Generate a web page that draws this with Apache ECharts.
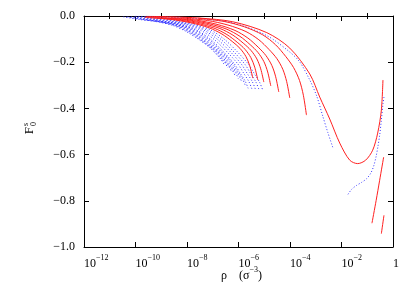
<!DOCTYPE html>
<html><head><meta charset="utf-8">
<script src="https://cdn.jsdelivr.net/npm/echarts@6/dist/echarts.min.js"></script>
<style>html,body{margin:0;padding:0;background:#fff}#c{width:415px;height:291px}</style>
</head><body><div id="c"></div>
<script>
// ---- tick labels ----
const xMajorExps = [-12, -10, -8, -6, -4, -2, 0];
const xMinorExps = [-11, -9, -7, -5, -3, -1];
const yTicks = [0, -0.2, -0.4, -0.6, -0.8, -1.0];

// ---- red solid curves: log10(rho) and F0s ----
const r0LogRho = [-9.644, -8.644, -7.844, -7.144, -6.644, -6.244, -5.944, -5.714, -5.564, -5.444];
const r0F      = [-0.0059, -0.0148, -0.0296, -0.0511, -0.078, -0.1103, -0.1399, -0.1749, -0.2152, -0.269];
const r1LogRho = [-9.45, -8.45, -7.65, -6.95, -6.45, -6.05, -5.75, -5.52, -5.37, -5.25];
const r1F      = [-0.0061, -0.0152, -0.0305, -0.0526, -0.0803, -0.1136, -0.144, -0.1801, -0.2216, -0.277];
const r2LogRho = [-9.217, -8.217, -7.417, -6.717, -6.217, -5.817, -5.517, -5.287, -5.137, -5.017];
const r2F      = [-0.0063, -0.0157, -0.0315, -0.0543, -0.0829, -0.1173, -0.1487, -0.1859, -0.2288, -0.286];
const r3LogRho = [-8.946, -7.946, -7.146, -6.446, -5.946, -5.546, -5.246, -5.016, -4.866, -4.746];
const r3F      = [-0.0067, -0.0167, -0.0333, -0.0576, -0.0879, -0.1242, -0.1576, -0.197, -0.2424, -0.303];
const r4LogRho = [-8.636, -7.636, -6.836, -6.136, -5.636, -5.236, -4.936, -4.706, -4.556, -4.436];
const r4F      = [-0.0072, -0.0181, -0.0362, -0.0625, -0.0954, -0.1349, -0.1711, -0.2139, -0.2632, -0.329];
const r5LogRho = [-8.209, -7.209, -6.409, -5.709, -5.209, -4.809, -4.509, -4.279, -4.129, -4.009];
const r5F      = [-0.0078, -0.0195, -0.0391, -0.0675, -0.103, -0.1456, -0.1846, -0.2308, -0.284, -0.355];
const r6LogRho = [-7.561, -6.561, -5.761, -5.061, -4.561, -4.161, -3.861, -3.631, -3.481, -3.361];
const r6F      = [-0.0094, -0.0236, -0.0472, -0.0815, -0.1244, -0.1759, -0.2231, -0.2789, -0.3432, -0.429];
const r7LogRho = [-9.6, -8.664, -7.5, -6.22, -4.901, -4.009, -3.233, -2.845, -2.457, -2.069, -1.681, -1.371, -1.061, -0.789, -0.595, -0.452, -0.39];
const r7F      = [-0.0015, -0.0035, -0.009, -0.025, -0.072, -0.139, -0.251, -0.351, -0.446, -0.55, -0.624, -0.639, -0.624, -0.581, -0.507, -0.407, -0.277];
const r8LogRho = [-0.817, -0.654, -0.518, -0.363];
const r8F      = [-0.897, -0.798, -0.711, -0.611];
const r9LogRho = [-0.452, -0.351];
const r9F      = [-0.942, -0.863];

// ---- blue dotted curves: log10(rho) and F0s ----
const b1LogRho  = [-10.469, -9.869, -9.209, -8.589, -8.039, -7.539, -7.109, -6.879, -6.685, -6.569];
const b1F       = [-0.0037, -0.0146, -0.0239, -0.0395, -0.0666, -0.1019, -0.1373, -0.1643, -0.1872, -0.208];
const b2LogRho  = [-10.314, -9.714, -9.054, -8.434, -7.884, -7.384, -6.954, -6.724, -6.53, -6.414];
const b2F       = [-0.0041, -0.0158, -0.0259, -0.0428, -0.072, -0.1103, -0.1485, -0.1778, -0.2025, -0.225];
const b3LogRho  = [-10.17, -9.57, -8.91, -8.29, -7.74, -7.24, -6.81, -6.58, -6.386, -6.27];
const b3F       = [-0.0043, -0.0169, -0.0277, -0.0458, -0.0771, -0.1181, -0.1591, -0.1904, -0.2169, -0.241];
const b4LogRho  = [-10.042, -9.442, -8.782, -8.162, -7.612, -7.112, -6.682, -6.452, -6.258, -6.142];
const b4F       = [-0.0046, -0.0179, -0.0294, -0.0486, -0.0819, -0.1254, -0.169, -0.2022, -0.2304, -0.256];
const b5LogRho  = [-9.907, -9.307, -8.647, -8.027, -7.477, -6.977, -6.547, -6.317, -6.123, -6.007];
const b5F       = [-0.0049, -0.019, -0.0312, -0.0515, -0.0867, -0.1328, -0.1789, -0.2141, -0.2439, -0.271];
const b6LogRho  = [-9.771, -9.171, -8.511, -7.891, -7.341, -6.841, -6.411, -6.181, -5.987, -5.871];
const b6F       = [-0.0051, -0.02, -0.0329, -0.0543, -0.0915, -0.1401, -0.1888, -0.2259, -0.2574, -0.286];
const b7LogRho  = [-9.635, -9.035, -8.375, -7.755, -7.205, -6.705, -6.275, -6.045, -5.851, -5.735];
const b7F       = [-0.0054, -0.0211, -0.0346, -0.0572, -0.0963, -0.1475, -0.1987, -0.2378, -0.2709, -0.301];
const b8LogRho  = [-9.526, -8.926, -8.266, -7.646, -7.096, -6.596, -6.166, -5.936, -5.742, -5.626];
const b8F       = [-0.0056, -0.0219, -0.036, -0.0595, -0.1002, -0.1534, -0.2066, -0.2473, -0.2817, -0.313];
const b9LogRho  = [-9.383, -8.783, -8.123, -7.503, -6.953, -6.453, -6.023, -5.793, -5.599, -5.483];
const b9F       = [-0.0057, -0.0221, -0.0362, -0.0599, -0.1008, -0.1544, -0.2079, -0.2489, -0.2835, -0.315];
const b10LogRho = [-9.247, -8.647, -7.987, -7.367, -6.817, -6.317, -5.887, -5.657, -5.463, -5.347];
const b10F      = [-0.0057, -0.0221, -0.0363, -0.06, -0.1011, -0.1548, -0.2086, -0.2496, -0.2844, -0.316];
const b11LogRho = [-9.111, -8.511, -7.851, -7.231, -6.681, -6.181, -5.751, -5.521, -5.327, -5.211];
const b11F      = [-0.0057, -0.0222, -0.0365, -0.0602, -0.1014, -0.1553, -0.2092, -0.2504, -0.2853, -0.317];
const b12LogRho = [-8.968, -8.368, -7.708, -7.088, -6.538, -6.038, -5.608, -5.378, -5.184, -5.068];
const b12F      = [-0.0057, -0.0223, -0.0366, -0.0604, -0.1018, -0.1558, -0.2099, -0.2512, -0.2862, -0.318];
const bLongLogRho = [-10.0, -9.052, -7.5, -6.22, -4.901, -4.009, -3.621, -3.233, -2.962, -2.729, -2.535, -2.341];
const bLongF      = [-0.0015, -0.004, -0.012, -0.03, -0.085, -0.156, -0.199, -0.277, -0.347, -0.433, -0.503, -0.568];
const bRiseLogRho = [-1.747, -1.604, -1.41, -1.216, -1.022, -0.867, -0.751, -0.654, -0.584, -0.518, -0.452, -0.39, -0.351];
const bRiseF      = [-0.772, -0.75, -0.733, -0.72, -0.704, -0.681, -0.65, -0.607, -0.564, -0.516, -0.451, -0.381, -0.351];

const redCurves = [[r0LogRho, r0F], [r1LogRho, r1F], [r2LogRho, r2F], [r3LogRho, r3F], [r4LogRho, r4F],
  [r5LogRho, r5F], [r6LogRho, r6F], [r7LogRho, r7F], [r8LogRho, r8F], [r9LogRho, r9F]];
const blueCurves = [[b1LogRho, b1F], [b2LogRho, b2F], [b3LogRho, b3F], [b4LogRho, b4F], [b5LogRho, b5F],
  [b6LogRho, b6F], [b7LogRho, b7F], [b8LogRho, b8F], [b9LogRho, b9F], [b10LogRho, b10F], [b11LogRho, b11F],
  [b12LogRho, b12F], [bLongLogRho, bLongF], [bRiseLogRho, bRiseF]];

const FONT = "'Liberation Serif', 'Times New Roman', 'DejaVu Serif', serif";
const toData = (lx, f) => lx.map((e, i) => [Math.pow(10, e), f[i]]);

const series = [];
blueCurves.forEach(([lx, f]) => series.push({
  type: 'line', data: toData(lx, f), smooth: 0.3, symbol: 'none', silent: true, z: 2,
  lineStyle: { color: '#3333ff', width: 1, type: [1, 2] }
}));
redCurves.forEach(([lx, f]) => series.push({
  type: 'line', data: toData(lx, f), smooth: 0.3, symbol: 'none', silent: true, z: 3,
  lineStyle: { color: '#ff2020', width: 1 }
}));

const xLabelFmt = v => {
  const e = Math.round(Math.log10(v));
  return e === 0 ? '{b|1}' : '{b|10}{s|\u2212' + Math.abs(e) + '}';
};
const xBase = {
  type: 'log', logBase: 10, min: 1e-12, max: 1, gridIndex: 0,
  splitLine: { show: false }, minorTick: { show: false }
};
const majorVals = xMajorExps.map(e => Math.pow(10, e));
const minorVals = xMinorExps.map(e => Math.pow(10, e));

const chart = echarts.init(document.getElementById('c'), null, { renderer: 'canvas' });
chart.setOption({
  animation: false,
  backgroundColor: '#fff',
  textStyle: { fontFamily: FONT },
  grid: { left: 84, top: 16, width: 309, height: 231 },
  xAxis: [
    Object.assign({}, xBase, {
      position: 'bottom',
      axisLine: { show: true, onZero: false, lineStyle: { color: '#000', width: 1 } },
      axisTick: { show: true, inside: true, length: 5, customValues: majorVals, lineStyle: { color: '#000' } },
      axisLabel: {
        show: true, customValues: majorVals, formatter: xLabelFmt, align: 'left', margin: 7,
        color: '#000', fontFamily: FONT,
        rich: {
          b: { fontFamily: FONT, fontSize: 12, color: '#000', lineHeight: 16, verticalAlign: 'bottom' },
          s: { fontFamily: FONT, fontSize: 8, color: '#000', lineHeight: 10, verticalAlign: 'top' }
        }
      }
    }),
    Object.assign({}, xBase, {
      position: 'bottom',
      axisLine: { show: false },
      axisTick: { show: true, inside: true, length: 3, customValues: minorVals, lineStyle: { color: '#000' } },
      axisLabel: { show: false }
    }),
    Object.assign({}, xBase, {
      position: 'top',
      axisLine: { show: true, onZero: false, lineStyle: { color: '#000', width: 1 } },
      axisTick: { show: true, inside: true, length: 5, customValues: majorVals, lineStyle: { color: '#000' } },
      axisLabel: { show: false }
    }),
    Object.assign({}, xBase, {
      position: 'top',
      axisLine: { show: false },
      axisTick: { show: true, inside: true, length: 3, customValues: minorVals, lineStyle: { color: '#000' } },
      axisLabel: { show: false }
    })
  ],
  yAxis: [
    {
      type: 'value', min: -1, max: 0, interval: 0.2, position: 'left',
      splitLine: { show: false },
      axisLine: { show: true, onZero: false, lineStyle: { color: '#000', width: 1 } },
      axisTick: { show: true, inside: true, length: 5, customValues: yTicks, lineStyle: { color: '#000' } },
      axisLabel: {
        show: true, customValues: yTicks, margin: 9, color: '#000', fontFamily: FONT, fontSize: 12,
        formatter: v => (Math.abs(v) < 1e-9 ? '0.0' : '\u2212' + Math.abs(v).toFixed(1))
      }
    },
    {
      type: 'value', min: -1, max: 0, interval: 0.2, position: 'right',
      splitLine: { show: false },
      axisLine: { show: true, onZero: false, lineStyle: { color: '#000', width: 1 } },
      axisTick: { show: true, inside: true, length: 5, lineStyle: { color: '#000' } },
      axisLabel: { show: false }
    }
  ],
  graphic: [
    {
      type: 'text', left: 221, top: 266,
      style: {
        text: '{a|\u03c1}{a|    (\u03c3}{s|\u22123}{a|)}',
        rich: {
          a: { fontFamily: FONT, fontSize: 12, fill: '#000', lineHeight: 16, verticalAlign: 'bottom' },
          s: { fontFamily: FONT, fontSize: 8, fill: '#000', lineHeight: 10, verticalAlign: 'top' }
        }
      }
    },
    {
      type: 'group', x: 30, y: 124, rotation: Math.PI / 2,
      children: [
        { type: 'text', x: -3, y: 0, style: { text: 'F', fontFamily: FONT, fontSize: 13, fill: '#000', align: 'right', verticalAlign: 'middle' } },
        { type: 'text', x: -2, y: -4, style: { text: 's', fontFamily: FONT, fontSize: 8, fill: '#000', align: 'left', verticalAlign: 'middle' } },
        { type: 'text', x: -2, y: 4, style: { text: '0', fontFamily: FONT, fontSize: 8, fill: '#000', align: 'left', verticalAlign: 'middle' } }
      ]
    }
  ],
  series: series
});
</script></body></html>
